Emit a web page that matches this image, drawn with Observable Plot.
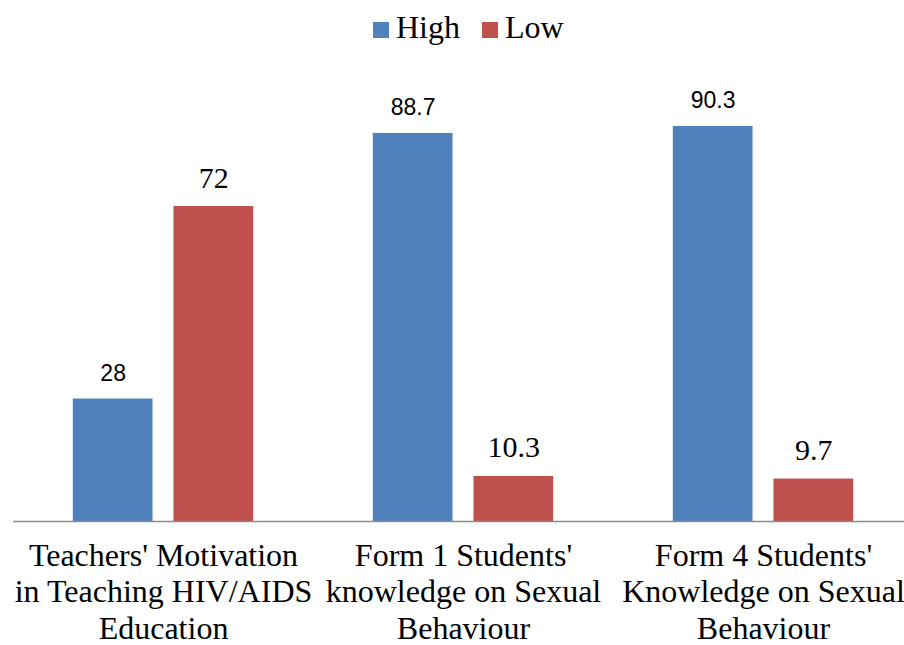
<!DOCTYPE html>
<html>
<head>
<meta charset="utf-8">
<script src="https://cdn.jsdelivr.net/npm/d3@7"></script>
<script src="https://cdn.jsdelivr.net/npm/@observablehq/plot@0.6"></script>
<style>
  html, body { margin: 0; padding: 0; background: #fff; }
  #wrap { width: 904px; height: 645px; overflow: hidden; position: relative; }
  #legend { height: 56px; box-sizing: border-box; padding-top: 11px; padding-left: 373px;
            font-family: "Liberation Serif", "Times New Roman", serif; font-size: 32px; line-height: 1; white-space: nowrap; color: #000; }
  .sw { display: inline-block; width: 16px; height: 16px; margin-right: 7px; }
  .item { display: inline-block; margin-right: 22px; }
  #chart svg { max-width: none !important; }
</style>
</head>
<body>
<div id="wrap">
  <div id="legend"></div>
  <div id="chart"></div>
</div>
<script>
const categories = [
  "Teachers' Motivation\nin Teaching HIV/AIDS\nEducation",
  "Form 1 Students'\nknowledge on Sexual\nBehaviour",
  "Form 4 Students'\nKnowledge on Sexual\nBehaviour"
];
const series = ["High", "Low"];
const highValues = [28, 88.7, 90.3];
const lowValues = [72, 10.3, 9.7];
const colors = ["#4F81BD", "#C0504D"];

const data = [];
categories.forEach((c, i) => {
  data.push({group: c, series: "High", value: highValues[i]});
  data.push({group: c, series: "Low", value: lowValues[i]});
});

// legend
const legend = document.getElementById("legend");
series.forEach((s, i) => {
  const item = document.createElement("span");
  item.className = "item";
  const sw = document.createElement("span");
  sw.className = "sw";
  sw.style.background = colors[i];
  item.appendChild(sw);
  item.appendChild(document.createTextNode(s));
  legend.appendChild(item);
});

const chart = Plot.plot({
  width: 914,
  height: 589,
  marginLeft: 11.6,
  marginRight: 0,
  marginTop: 27.5,
  marginBottom: 124,
  style: {fontFamily: "'Liberation Serif', 'Times New Roman', serif", background: "#fff", color: "#000", overflow: "visible", maxWidth: "none"},
  fx: {domain: categories, padding: 0, label: null},
  x: {domain: series, paddingInner: 0.208, paddingOuter: 0.594, round: false, axis: null},
  y: {domain: [0, 100], axis: null},
  color: {domain: series, range: colors},
  marks: [
    Plot.barY(data, {fx: "group", x: "series", y: "value", fill: "series"}),
    Plot.ruleY([0], {stroke: "#8c8c8c", strokeWidth: 1.5}),
    Plot.text(data.filter(d => d.series === "High"), {
      fx: "group", x: "series", y: "value", text: d => String(d.value),
      lineAnchor: "bottom", dy: -18, fontSize: 23,
      fontFamily: "'Liberation Sans', Arial, sans-serif", fill: "#000"
    }),
    Plot.text(data.filter(d => d.series === "Low"), {
      fx: "group", x: "series", y: "value", text: d => String(d.value),
      lineAnchor: "bottom", dy: -19, fontSize: 30,
      fontFamily: "'Liberation Serif', 'Times New Roman', serif", fill: "#000"
    }),
    Plot.axisFx({anchor: "bottom", tickSize: 0, tickPadding: 18, fontSize: 32, lineHeight: 1.15,
                 tickFormat: d => d, label: null, fill: "#000"})
  ]
});
document.getElementById("chart").appendChild(chart);
</script>
</body>
</html>
